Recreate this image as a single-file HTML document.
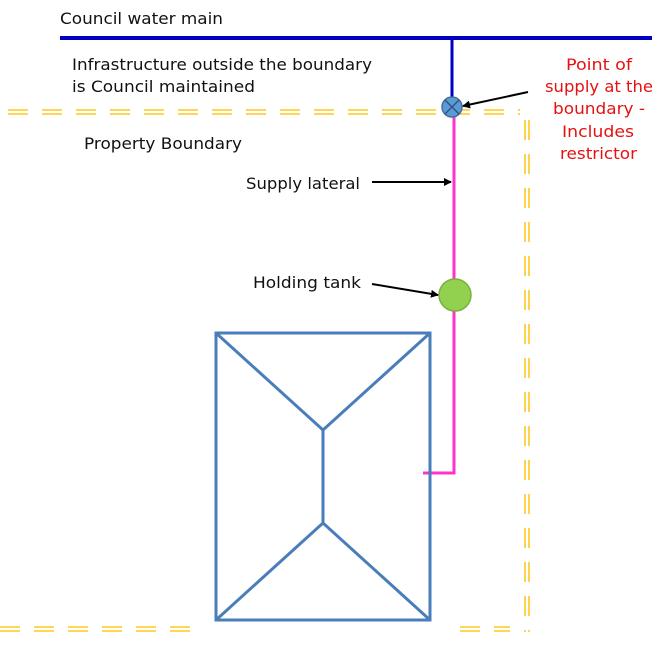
<!DOCTYPE html>
<html><head><style>body{margin:0;background:#fff}svg{display:block}</style></head><body>
<svg width="658" height="658" viewBox="0 0 658 658" xmlns="http://www.w3.org/2000/svg" font-family="DejaVu Sans, Liberation Sans, sans-serif">
<defs><marker id="a" markerWidth="8" markerHeight="8" refX="7" refY="4" orient="auto" markerUnits="userSpaceOnUse"><path d="M0,0 L8,4 L0,8 z" fill="#000"/></marker></defs>
<g stroke="#ffc81e" stroke-width="1.6" fill="none" stroke-dasharray="20 14">
<line x1="8" y1="110" x2="520" y2="110"/><line x1="8" y1="114" x2="520" y2="114"/>
<line x1="0" y1="627" x2="200" y2="627"/><line x1="0" y1="631" x2="200" y2="631"/>
<line x1="460" y1="627" x2="510" y2="627"/><line x1="460" y1="631" x2="510" y2="631"/>
<line x1="525" y1="120" x2="525" y2="632"/><line x1="529" y1="120" x2="529" y2="632"/>
</g>
<line x1="60" y1="38" x2="652" y2="38" stroke="#0000c0" stroke-width="4"/>
<line x1="452" y1="38" x2="452" y2="100" stroke="#0000c0" stroke-width="3"/>
<polyline points="454,115 454,473 423,473" fill="none" stroke="#ff33cc" stroke-width="3"/>
<circle cx="452" cy="107" r="10" fill="#5b9bd5" stroke="#41719c" stroke-width="1.5"/>
<path d="M445,100 L459,114 M459,100 L445,114" stroke="#2f4f7a" stroke-width="1.3"/>
<circle cx="455" cy="295" r="16" fill="#92d050" stroke="#7ab03f" stroke-width="1.5"/>
<g stroke="#4a7ebb" stroke-width="3" fill="none">
<rect x="216" y="333" width="214" height="287"/>
<path d="M216,333 L323,430 L430,333 M323,430 L323,523 M216,620 L323,523 L430,620"/>
</g>
<g stroke="#000" stroke-width="2" marker-end="url(#a)">
<line x1="528" y1="92" x2="463" y2="106"/>
<line x1="372" y1="182" x2="451" y2="182"/>
<line x1="372" y1="284" x2="438" y2="295"/>
</g>
<g font-size="16" fill="#111" lengthAdjust="spacingAndGlyphs">
<text x="60" y="24" textLength="163" lengthAdjust="spacingAndGlyphs">Council water main</text>
<text x="72" y="70" textLength="300" lengthAdjust="spacingAndGlyphs">Infrastructure outside the boundary</text>
<text x="72" y="92" textLength="183" lengthAdjust="spacingAndGlyphs">is Council maintained</text>
<text x="84" y="149" textLength="158" lengthAdjust="spacingAndGlyphs">Property Boundary</text>
<text x="246" y="189" textLength="114" lengthAdjust="spacingAndGlyphs">Supply lateral</text>
<text x="253" y="288" textLength="108" lengthAdjust="spacingAndGlyphs">Holding tank</text>
</g>
<g font-size="16" fill="#e81010">
<text x="566" y="70" textLength="66" lengthAdjust="spacingAndGlyphs">Point of</text>
<text x="545" y="92" textLength="108" lengthAdjust="spacingAndGlyphs">supply at the</text>
<text x="553" y="114" textLength="92" lengthAdjust="spacingAndGlyphs">boundary -</text>
<text x="562" y="137" textLength="72" lengthAdjust="spacingAndGlyphs">Includes</text>
<text x="560" y="159" textLength="77" lengthAdjust="spacingAndGlyphs">restrictor</text>
</g>
</svg>
</body></html>
